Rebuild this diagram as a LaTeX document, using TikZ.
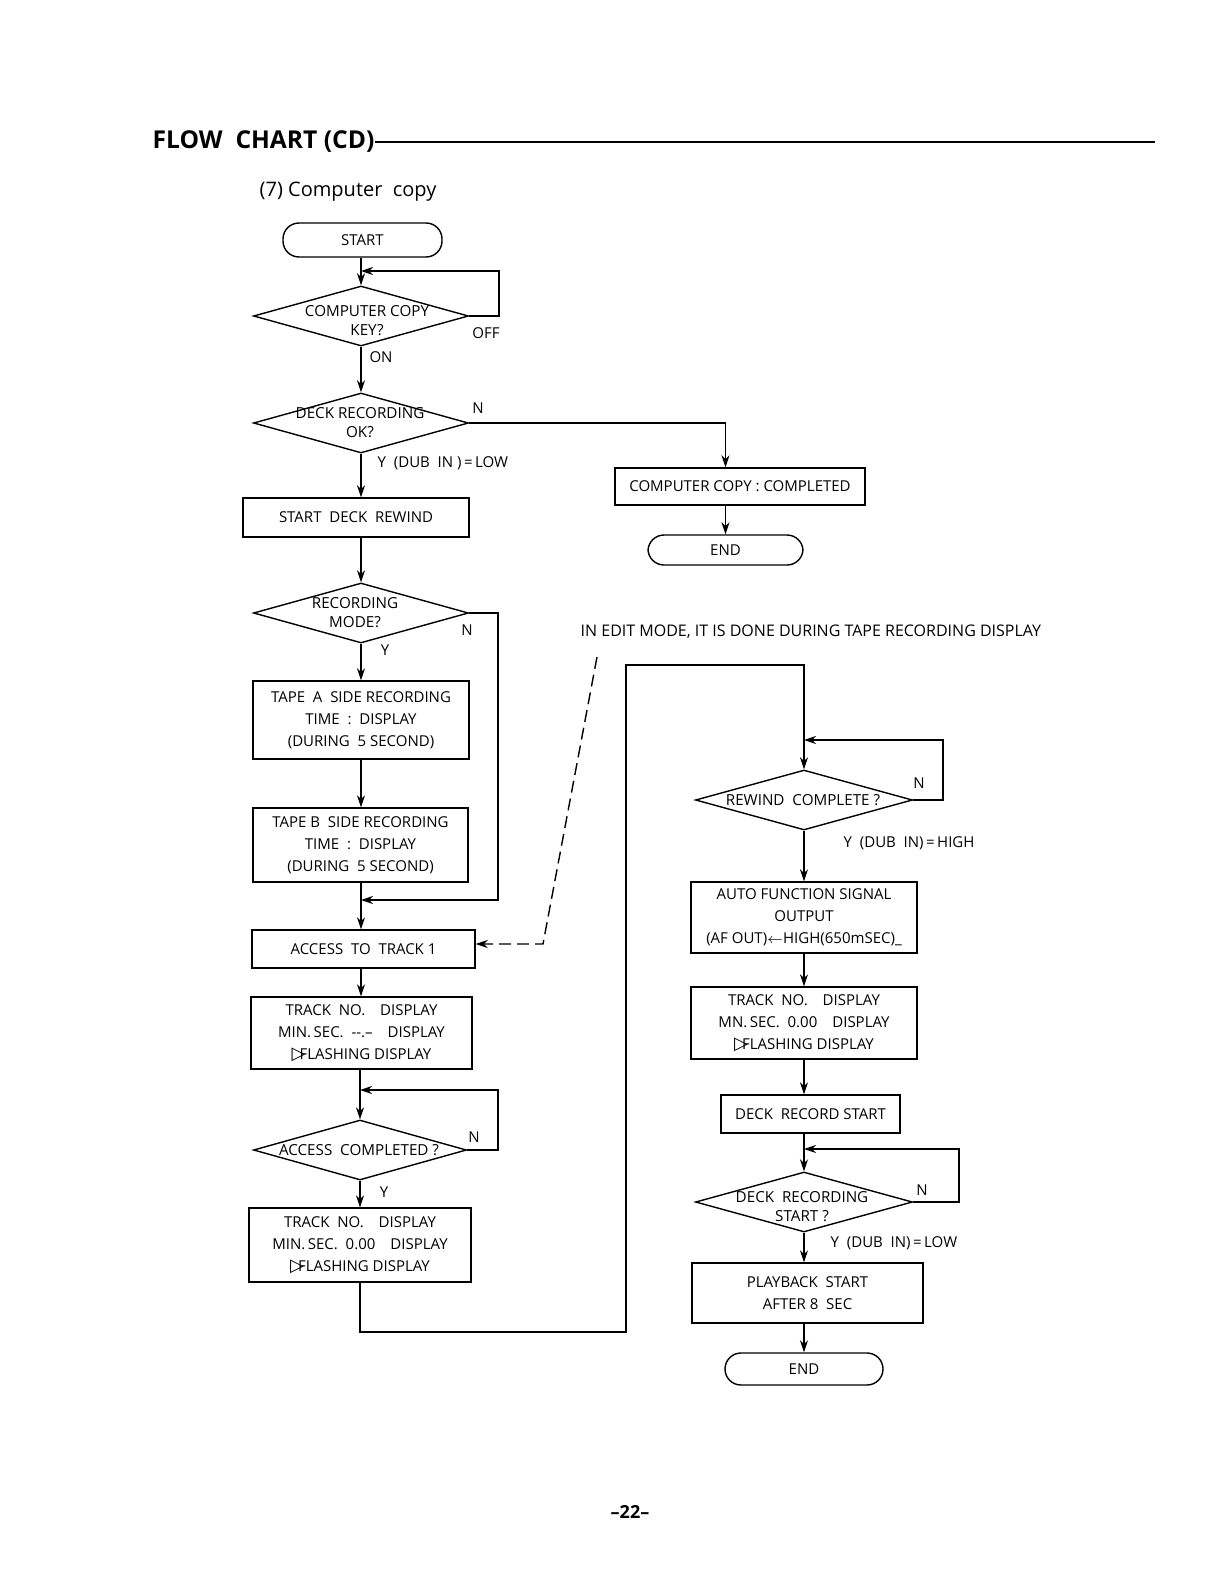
\documentclass[tikz,border=0pt]{standalone}
\usepackage{fontspec}
\setmainfont{Open Sans}
\newfontfamily\symfont{DejaVu Sans}
\usetikzlibrary{shapes.geometric,arrows.meta}
\newcommand{\flashmark}{{\symfont\fontsize{9}{9}\selectfont\char"25B7}\kern-3pt}
\tikzset{
  box/.style={draw, line width=0.7pt, inner sep=0pt, align=center, font=\fontsize{7.5}{11}\selectfont},
  term/.style={box, rounded corners=8pt},
  decision/.style={draw, diamond, line width=0.7pt, inner sep=0pt, minimum width=107.5pt, minimum height=30pt},
  dtext/.style={align=center, inner sep=0pt, font=\fontsize{7.6}{9.5}\selectfont},
  lbl/.style={inner sep=0pt, font=\fontsize{7.5}{9}\selectfont},
}
\begin{document}
\begin{tikzpicture}[x=0.5pt, y=-0.5pt, >={Stealth[length=6pt,width=4pt]}, line width=0.7pt]
  \useasboundingbox (0,0) rectangle (1224,1584);
  \node[anchor=west, inner sep=0pt, font=\bfseries\fontsize{12.3}{14}\selectfont] (title) at (152,142) {FLOW\ \ CHART (CD)};
  \coordinate (ruleend) at (1155,142);
  \draw (title.east) -- (ruleend);
  \node[anchor=west, inner sep=0pt, font=\fontsize{10}{12}\selectfont] (sub) at (259,192) {(7) Computer\ \ copy};

  \node[term, minimum width=79.5pt, minimum height=17pt] (start) at (362.5,240) {START};
  \node[decision] (keyq) at (361,316) {};
  \node[dtext] (keyqt) at (367,321) {COMPUTER COPY\\KEY?};
  \node[decision] (okq) at (361,423) {};
  \node[dtext] (okqt) at (360,423) {DECK RECORDING\\OK?};
  \node[box, minimum width=113pt, minimum height=19.5pt] (rewind) at (356,517.5) {START\ \ DECK\ \ REWIND};
  \node[box, minimum width=125pt, minimum height=18.5pt] (done) at (740,486.5) {COMPUTER COPY : COMPLETED};
  \node[term, minimum width=77.5pt, minimum height=15pt] (endA) at (725.5,550) {END};
  \node[decision] (modeq) at (361,613) {};
  \node[dtext] (modeqt) at (355,613) {RECORDING\\MODE?};
  \node[box, minimum width=108pt, minimum height=39pt] (tapea) at (361,720) {TAPE\ \ A\ \ SIDE RECORDING\\TIME\ \ :\ \ DISPLAY\\(DURING\ \ 5 SECOND)};
  \node[box, minimum width=107.5pt, minimum height=37pt] (tapeb) at (360.5,845) {TAPE B\ \ SIDE RECORDING\\TIME\ \ :\ \ DISPLAY\\(DURING\ \ 5 SECOND)};
  \node[box, minimum width=111.5pt, minimum height=19pt] (access) at (363.5,949) {ACCESS\ \ TO\ \ TRACK 1};
  \node[box, minimum width=110.5pt, minimum height=36pt] (trackA) at (361.5,1033) {TRACK\ \ NO.\quad DISPLAY\\MIN.\,SEC.\ \ -{}-.--\quad DISPLAY\\\flashmark FLASHING DISPLAY};
  \node[decision, minimum width=106.5pt] (accq) at (360,1150) {};
  \node[dtext] (accqt) at (359,1150) {ACCESS\ \ COMPLETED ?};
  \node[box, minimum width=111pt, minimum height=37pt] (trackB) at (360,1245) {TRACK\ \ NO.\quad DISPLAY\\MIN.\,SEC.\ \ 0.00\quad DISPLAY\\\flashmark FLASHING DISPLAY};

  \node[lbl, anchor=west, font=\fontsize{8}{9}\selectfont] (note) at (580,632) {IN EDIT MODE, IT IS DONE DURING TAPE RECORDING DISPLAY};
  \node[decision, minimum width=108.5pt] (rewq) at (804,800) {};
  \node[dtext] (rewqt) at (803,800) {REWIND\ \ COMPLETE ?};
  \node[box, minimum width=113pt, minimum height=35.5pt] (afout) at (804,917.5) {AUTO FUNCTION SIGNAL\\OUTPUT\\(AF OUT)$\leftarrow$HIGH(650mSEC)\_};
  \node[box, minimum width=113pt, minimum height=36pt] (trackC) at (804,1023) {TRACK\ \ NO.\quad DISPLAY\\MN.\,SEC.\ \ 0.00\quad DISPLAY\\\flashmark FLASHING DISPLAY};
  \node[box, minimum width=89.5pt, minimum height=19pt] (recstart) at (810.5,1114) {DECK\ \ RECORD START};
  \node[decision, minimum width=108.5pt] (recq) at (804,1202) {};
  \node[dtext] (recqt) at (802,1207) {DECK\ \ RECORDING\\START ?};
  \node[box, minimum width=115.5pt, minimum height=30pt] (play) at (807.5,1293) {PLAYBACK\ \ START\\AFTER 8\ \ SEC};
  \node[term, minimum width=79pt, minimum height=16pt] (endB) at (804,1369) {END};
  \node[inner sep=0pt, font=\bfseries\fontsize{9}{10}\selectfont] (page) at (630,1512) {--22--};

  \draw[->] (keyq.north |- start.south) -- (keyq.north);
  \coordinate (loopA) at (499,271);
  \draw[->] (keyq.east) -| (loopA) -- (loopA -| keyq.north);
  \draw[->] (keyq.south) -- (okq.north);
  \draw[->] (okq.east) -| (endA.north |- done.north);
  \draw[->] (endA.north |- done.south) -- (endA.north);
  \draw[->] (okq.south) -- (okq.south |- rewind.north);
  \draw[->] (modeq.north |- rewind.south) -- (modeq.north);
  \draw[->] (modeq.south) -- (modeq.south |- tapea.north);
  \draw[->] (modeq.south |- tapea.south) -- (modeq.south |- tapeb.north);
  \draw[->] (modeq.south |- tapeb.south) -- (modeq.south |- access.north);
  \coordinate (loopB) at (498,900);
  \draw[->] (modeq.east) -| (loopB) -- (loopB -| modeq.south);
  \coordinate (editA) at (597,657);
  \coordinate (editB) at (543,944);
  \draw[->, dashed, dash pattern=on 6pt off 3pt] (editA) -- (editB) -- (editB -| access.east);
  \draw[->] (modeq.south |- access.south) -- (modeq.south |- trackA.north);
  \draw[->] (accq.north |- trackA.south) -- (accq.north);
  \coordinate (loopC) at (498,1090);
  \draw[->] (accq.east) -| (loopC) -- (loopC -| accq.north);
  \draw[->] (accq.south) -- (accq.south |- trackB.north);
  \coordinate (backA) at (626,1332);
  \coordinate (backB) at (626,665);
  \draw[->] (accq.south |- trackB.south) |- (backA) -- (backB) -| (rewq.north);
  \coordinate (loopD) at (943,740);
  \draw[->] (rewq.east) -| (loopD) -- (loopD -| rewq.north);
  \draw[->] (rewq.south) -- (rewq.south |- afout.north);
  \draw[->] (rewq.south |- afout.south) -- (rewq.south |- trackC.north);
  \draw[->] (rewq.south |- trackC.south) -- (rewq.south |- recstart.north);
  \draw[->] (recq.north |- recstart.south) -- (recq.north);
  \coordinate (loopE) at (959,1149);
  \draw[->] (recq.east) -| (loopE) -- (loopE -| recq.north);
  \draw[->] (recq.south) -- (recq.south |- play.north);
  \draw[->] (recq.south |- play.south) -- (endB.north);

  \node[lbl] (offl) at (486,333) {OFF};
  \node[lbl] (onl) at (381,357) {ON};
  \node[lbl] (okn) at (478,408) {N};
  \node[lbl, anchor=west] (oky) at (377,463) {Y\ \ (DUB\ \ IN\ )\,=\,LOW};
  \node[lbl] (moden) at (467,630) {N};
  \node[lbl] (modey) at (385,650) {Y};
  \node[lbl] (accn) at (474,1137) {N};
  \node[lbl] (accy) at (384,1192) {Y};
  \node[lbl] (rewn) at (919,783) {N};
  \node[lbl, anchor=west] (rewy) at (843,843) {Y\ \ (DUB\ \ IN)\,=\,HIGH};
  \node[lbl] (recn) at (922,1190) {N};
  \node[lbl, anchor=west] (recy) at (830,1243) {Y\ \ (DUB\ \ IN)\,=\,LOW};
\end{tikzpicture}
\end{document}
